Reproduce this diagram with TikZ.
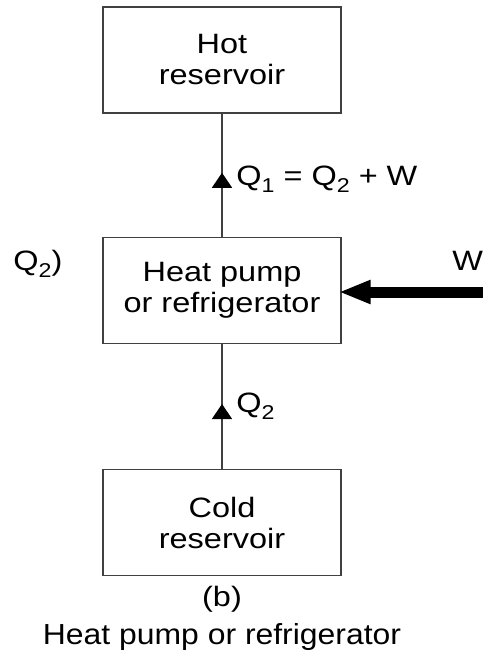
\documentclass[tikz,border=0pt]{standalone}
\usepackage{fontspec}
\setmainfont{Liberation Sans}
\usepackage{graphicx}
\usetikzlibrary{arrows.meta,decorations.markings}
\newcommand{\wtxt}[1]{\scalebox{1.16}[1]{#1}}
\newcommand{\lowsub}[1]{\raisebox{-3.5pt}{\fontsize{10}{10}\selectfont #1}}
\tikzset{
  box/.style={draw=black!75, line width=0.7pt, minimum width=119pt, minimum height=53pt,
    inner sep=0pt, align=center, font=\fontsize{14}{15.5}\selectfont},
  lbl/.style={inner sep=0pt, font=\fontsize{14}{15.5}\selectfont},
  flow/.style={draw=black!75, line width=0.7pt, postaction={decorate},
    decoration={markings, mark=at position 0.52 with {\arrow[black]{Triangle[length=7.5pt,width=10pt]}}}}
}
\begin{document}
\begin{tikzpicture}[x=0.5pt,y=-0.5pt]
  \useasboundingbox (0,0) rectangle (482,653);
  \node[box] (hot) at (222,60) {\wtxt{Hot}\\\wtxt{reservoir}};
  \node[box] (pump) at (222,290.5) {\wtxt{Heat pump}\\\wtxt{or refrigerator}};
  \node[box] (cold) at (222,522.5) {\wtxt{Cold}\\\wtxt{reservoir}};
  \coordinate (wstart) at (495,292);
  \draw[flow] (pump.north) -- (hot.south);
  \draw[flow] (cold.north) -- (pump.south);
  \draw[line width=5.5pt, -{Triangle[length=16pt,width=11pt]}] (wstart) -- ([xshift=-1.5pt]pump.east |- wstart);
  \node[lbl, anchor=base west] (qone) at (236,185) {\wtxt{Q\lowsub{1} = Q\lowsub{2} + W}};
  \node[lbl, anchor=base west] (qtwo) at (236,412) {\wtxt{Q\lowsub{2}}};
  \node[lbl, anchor=base west] (qleft) at (13,270) {\wtxt{Q\lowsub{2})}};
  \node[lbl, anchor=base west] (wlbl) at (452,270) {\wtxt{W}};
  \node[lbl, anchor=base] (sub) at (222,606) {\wtxt{(b)}};
  \node[lbl, anchor=base, font=\fontsize{14.5}{16}\selectfont] (cap) at (222,644) {\scalebox{1.1}[1]{Heat pump or refrigerator}};
\end{tikzpicture}
\end{document}
